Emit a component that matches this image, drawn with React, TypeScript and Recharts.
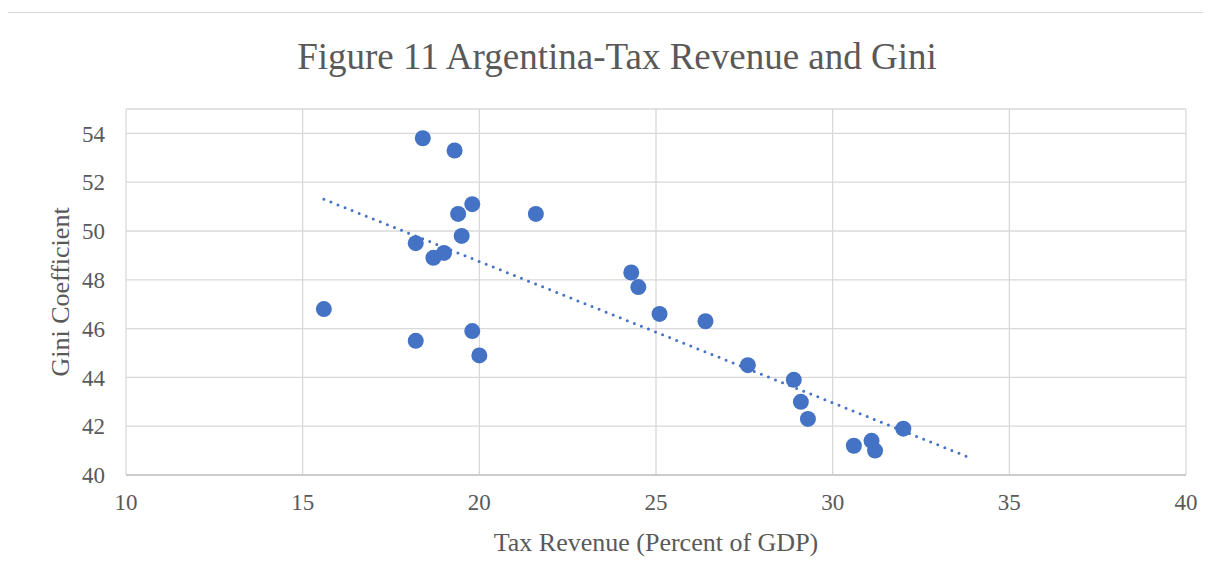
import React from 'react';
import { ScatterChart, Scatter, XAxis, YAxis, CartesianGrid } from 'recharts';

// Tax revenue (% of GDP) vs Gini
const taxRevenue = [18.4, 19.3, 19.8, 19.4, 21.6, 19.5, 18.2, 19.0, 18.7, 24.3, 24.5, 25.1, 26.4, 15.6, 19.8, 18.2, 20.0, 27.6, 28.9, 29.1, 29.3, 32.0, 30.6, 31.1, 31.2];
const gini = [53.8, 53.3, 51.1, 50.7, 50.7, 49.8, 49.5, 49.1, 48.9, 48.3, 47.7, 46.6, 46.3, 46.8, 45.9, 45.5, 44.9, 44.5, 43.9, 43.0, 42.3, 41.9, 41.2, 41.4, 41.0];

// linear trendline endpoints
const trendX = [15.6, 33.9];
const trendY = [51.3, 40.7];

const xTicks = [10, 15, 20, 25, 30, 35, 40];
const yTicks = [40, 42, 44, 46, 48, 50, 52, 54];

const points = taxRevenue.map((x, i) => ({ x, y: gini[i] }));
const trend = trendX.map((x, i) => ({ x, y: trendY[i] }));

const BLUE = '#4472C4';
const TEXT = '#595959';
const FONT = '"Liberation Serif", "Times New Roman", serif';

const Dot = (props: any) => <circle cx={props.cx} cy={props.cy} r={8} fill={BLUE} />;

const App: React.FC = () => {
  return (
    <div style={{ position: 'relative', margin: -8, width: 1211, height: 580, overflow: 'hidden', background: '#fff', fontFamily: FONT }}>
      <div style={{ position: 'absolute', left: 4, top: 12, width: 1203, height: 600, border: '1px solid #d9d9d9', boxSizing: 'border-box' }} />
      <div style={{ position: 'absolute', left: 617, top: 38, transform: 'translateX(-50%)', whiteSpace: 'nowrap', fontSize: 37, lineHeight: '37px', color: TEXT }}>
        Figure 11 Argentina-Tax Revenue and Gini
      </div>
      <ScatterChart width={1211} height={580} margin={{ top: 109, right: 25, left: 56, bottom: 25 }} style={{ position: 'absolute', left: 0, top: 0 }}>
        <CartesianGrid stroke="#d9d9d9" strokeWidth={1.3} />
        <XAxis
          type="number"
          dataKey="x"
          domain={[10, 40]}
          ticks={xTicks}
          height={80}
          tickSize={0}
          tickMargin={19}
          tickLine={false}
          axisLine={{ stroke: '#c4c4c4', strokeWidth: 1.5 }}
          tick={{ fill: TEXT, fontSize: 23, fontFamily: FONT }}
          label={{ value: 'Tax Revenue (Percent of GDP)', position: 'center', dy: 27, fill: TEXT, fontSize: 26, fontFamily: FONT }}
        />
        <YAxis
          type="number"
          dataKey="y"
          domain={[40, 55]}
          ticks={yTicks}
          width={70}
          tickSize={0}
          tickMargin={21}
          tickLine={false}
          axisLine={false}
          tick={{ fill: TEXT, fontSize: 23, fontFamily: FONT }}
          label={{ value: 'Gini Coefficient', angle: -90, position: 'center', dx: -31, fill: TEXT, fontSize: 26, fontFamily: FONT }}
        />
        <Scatter data={points} shape={Dot} isAnimationActive={false} />
        <Scatter
          data={trend}
          shape={() => <g />}
          line={{ stroke: BLUE, strokeWidth: 3, strokeDasharray: '0 7.6', strokeLinecap: 'round' }}
          isAnimationActive={false}
        />
      </ScatterChart>
    </div>
  );
};

export default App;
